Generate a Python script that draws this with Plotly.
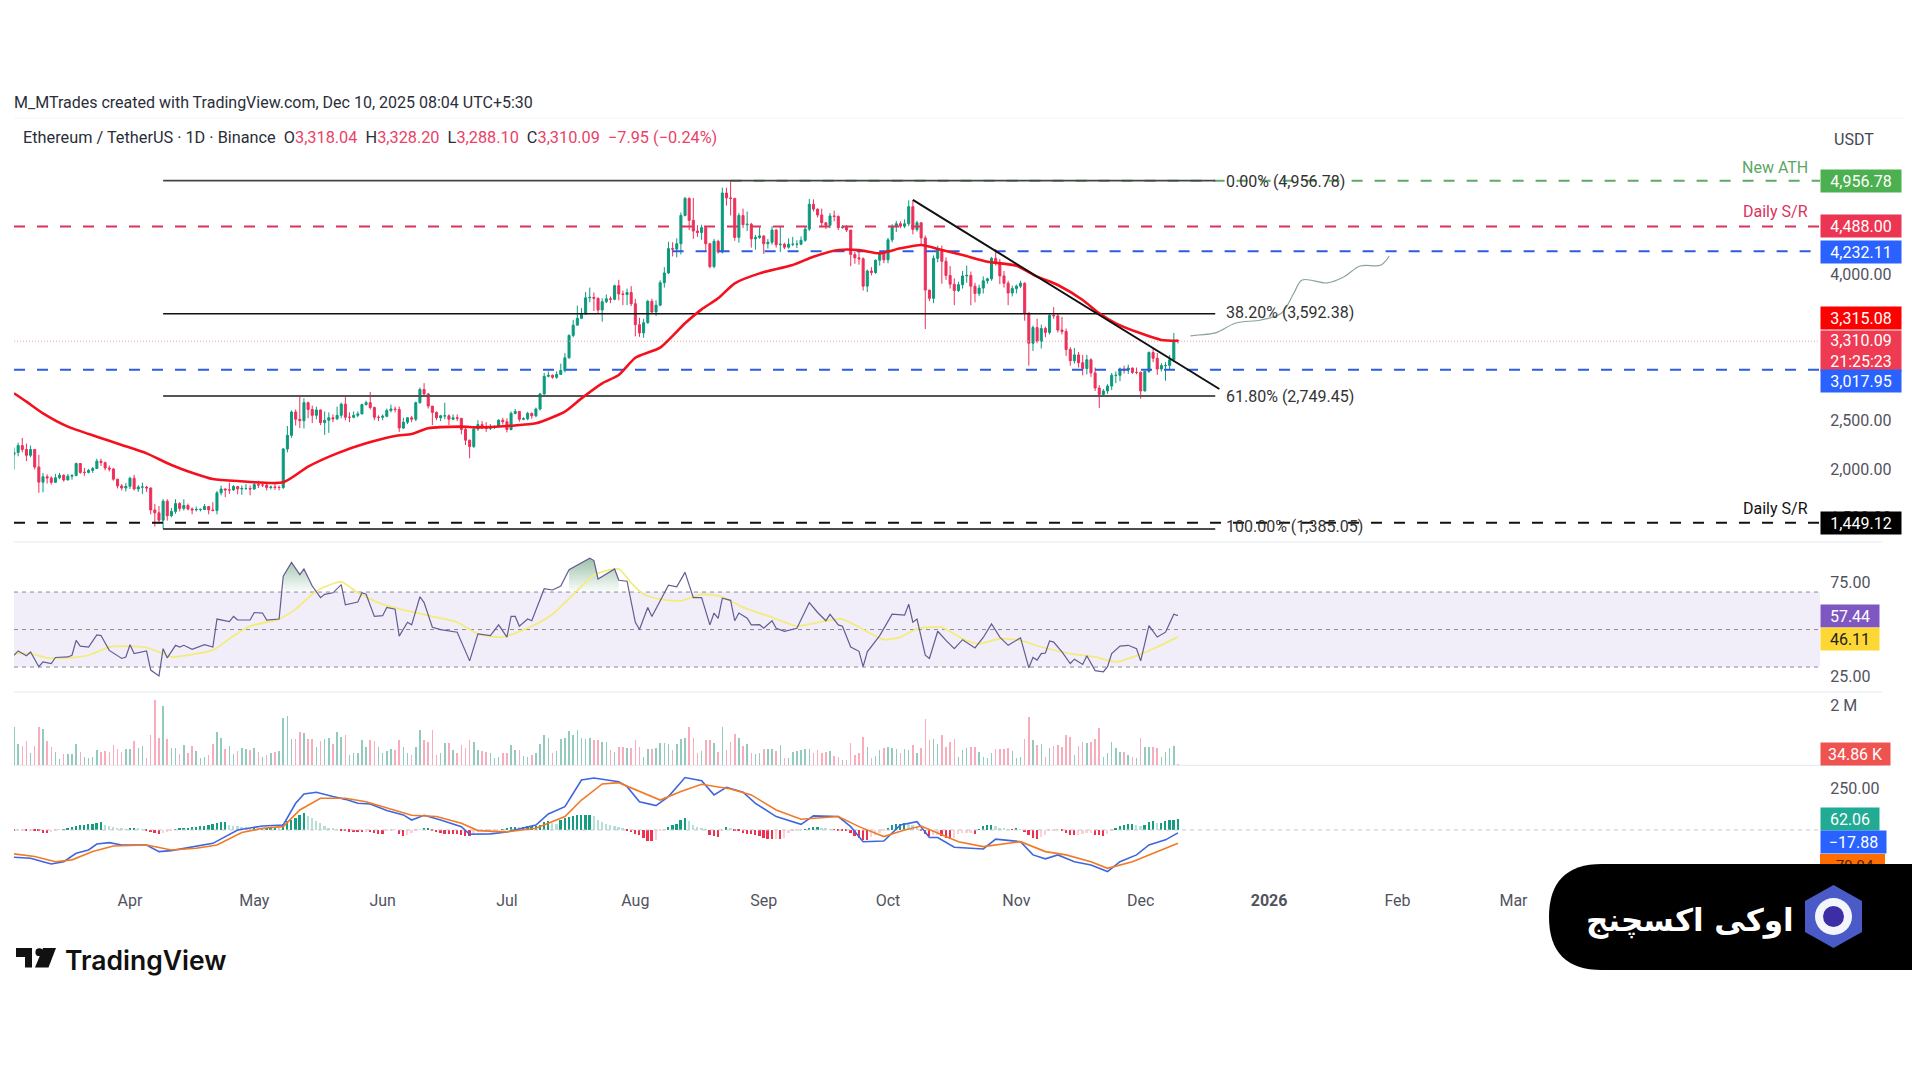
import pandas as pd
import plotly.graph_objects as go

start = pd.Timestamp("2025-03-04")
days = list(range(282))

opens = [
    2150,2170,2240,2200,2140,2200,2020,1865,1920,1908,1863,1910,1936,1887,1926,1934,2056,1965,1965,1985,2005,2080,2065,2010,2000,1895,1826,1805,
    1822,1905,1795,1815,1815,1805,1580,1550,1475,1670,1520,1565,1645,1595,1625,1590,1580,1585,1585,1615,1580,1575,1755,1795,1785,1785,1820,1795,1800,1800,
    1795,1840,1835,1835,1810,1815,1810,1810,2205,2345,2585,2510,2495,2680,2610,2550,2605,2475,2500,2525,2515,2550,2665,2530,2530,2550,2565,2660,2680,2630,2530,
    2530,2540,2600,2615,2610,2420,2480,2525,2510,2680,2815,2770,2645,2580,2525,2545,2545,2510,2525,2520,2405,2295,2230,2410,2455,2420,2415,2425,2435,2500,
    2485,2405,2570,2590,2510,2515,2570,2545,2615,2770,2950,2960,2940,2970,3010,3140,3370,3475,3545,3590,3755,3760,3750,3630,3715,3745,3740,3880,3795,3790,3810,
    3695,3480,3395,3500,3720,3610,3680,3910,4010,4260,4255,4310,4600,4775,4550,4440,4425,4475,4310,4075,4335,4225,4830,4780,4775,4375,4600,4505,4510,4360,4375,
    4390,4310,4325,4450,4300,4305,4275,4305,4305,4305,4345,4460,4715,4665,4605,4525,4500,4595,4590,4475,4480,4450,4200,4165,4155,3875,4030,4015,4140,4215,
    4145,4350,4485,4515,4490,4515,4690,4455,4525,4370,3835,3750,4160,4250,4130,3985,3895,3830,3890,3980,3985,3875,3800,3855,3930,3950,4160,4120,3980,3905,3805,
    3850,3875,3905,3600,3290,3450,3310,3440,3400,3575,3570,3425,3410,3225,3110,3170,3090,3030,3120,2985,2830,2765,2800,2850,2960,2960,3025,3015,3035,2990,
    2990,2800,3000,3195,3135,3025,3060,3060,3120,3318.04,
]
highs = [
    2220,2270,2318,2260,2240,2205,2145,1960,1945,1925,1950,1960,1945,1950,1945,2065,2060,2010,2000,2020,2105,2105,2075,2035,2010,1900,1845,1855,
    1920,1940,1835,1860,1825,1810,1640,1620,1690,1690,1600,1690,1660,1690,1645,1605,1615,1595,1640,1615,1660,1775,1830,1800,1860,1835,1825,1830,1845,1830,
    1870,1880,1870,1850,1830,1860,1830,2215,2440,2600,2610,2740,2725,2690,2650,2640,2610,2590,2580,2560,2640,2680,2740,2580,2590,2590,2670,2700,2790,2640,2550,
    2560,2620,2660,2640,2640,2525,2530,2545,2690,2835,2880,2780,2590,2590,2555,2680,2560,2560,2560,2520,2425,2300,2420,2500,2490,2480,2460,2445,2510,2525,
    2520,2590,2615,2590,2530,2585,2580,2630,2780,2985,3000,2970,3000,3080,3190,3380,3530,3675,3650,3815,3860,3810,3760,3750,3790,3770,3890,3940,3830,3850,3875,
    3745,3550,3540,3735,3745,3730,3935,4070,4330,4325,4365,4630,4790,4785,4780,4500,4505,4480,4320,4360,4350,4885,4885,4956.78,4780,4625,4670,4640,4525,4400,4480,
    4395,4360,4490,4460,4485,4320,4365,4380,4345,4385,4490,4770,4765,4670,4670,4530,4625,4650,4600,4500,4500,4450,4230,4240,4170,4045,4070,4150,4240,4225,
    4370,4510,4545,4540,4560,4755,4755,4545,4530,4395,3820,4190,4290,4290,4170,4080,3955,3920,4030,4085,4025,3910,3890,3975,3960,4175,4255,4155,4030,3930,3880,
    3890,3930,3915,3600,3470,3540,3480,3460,3590,3660,3590,3560,3440,3250,3240,3200,3170,3170,3135,3040,2860,2820,2870,2985,3000,3040,3060,3070,3040,3040,
    3000,3005,3205,3240,3190,3085,3095,3170,3395,3328.20,
]
lows = [
    1995,2130,2170,2080,2120,1995,1755,1760,1850,1840,1860,1895,1870,1885,1890,1925,1950,1930,1955,1960,2000,2030,1985,1975,1880,1800,1780,1770,
    1795,1780,1765,1745,1765,1535,1410,1440,1385.05,1470,1505,1540,1565,1575,1575,1535,1565,1565,1580,1535,1565,1535,1730,1710,1745,1775,1740,1735,1785,1730,
    1785,1805,1815,1780,1790,1785,1780,1795,2170,2320,2445,2420,2415,2520,2470,2510,2450,2350,2370,2480,2500,2520,2500,2480,2520,2530,2560,2650,2610,2500,2490,
    2500,2530,2580,2580,2380,2410,2460,2480,2490,2670,2740,2620,2450,2500,2490,2510,2450,2500,2490,2355,2245,2110,2215,2390,2410,2380,2400,2410,2435,2455,
    2375,2395,2560,2485,2500,2500,2515,2530,2600,2760,2940,2925,2925,2965,2990,3130,3350,3475,3540,3580,3710,3620,3600,3510,3700,3700,3730,3730,3680,3680,3670,
    3360,3355,3345,3490,3590,3570,3670,3860,4000,4180,4170,4200,4590,4450,4360,4380,4350,4225,4060,4060,4210,4210,4700,4600,4340,4320,4470,4440,4270,4250,4360,
    4205,4260,4300,4270,4225,4255,4260,4285,4265,4295,4330,4440,4640,4580,4480,4460,4470,4540,4450,4465,4430,4080,4105,4095,3830,3815,3985,4000,4085,4110,
    4110,4325,4430,4470,4470,4490,4405,4435,4300,3435,3720,3700,4120,3900,3940,3850,3680,3815,3850,3910,3680,3710,3775,3800,3900,3930,4085,3895,3860,3680,3770,
    3800,3855,3520,3060,3210,3290,3235,3350,3380,3540,3400,3380,3160,3060,3080,3040,2960,2970,2945,2800,2625,2750,2770,2810,2880,2900,2980,2975,2975,2970,
    2720,2795,2985,3095,2965,3000,2905,3025,3095,3288.10,
]
closes = [
    2170,2240,2200,2140,2200,2020,1865,1920,1908,1863,1910,1936,1887,1926,1934,2056,1965,1965,1985,2005,2080,2065,2010,2000,1895,1826,1805,1822,
    1905,1795,1815,1815,1805,1580,1550,1475,1670,1520,1565,1645,1595,1625,1590,1580,1585,1585,1615,1580,1575,1755,1795,1785,1785,1820,1795,1800,1800,1795,
    1840,1835,1835,1810,1815,1810,1810,2205,2345,2585,2510,2495,2680,2610,2550,2605,2475,2500,2525,2515,2550,2665,2530,2530,2550,2565,2660,2680,2630,2530,2530,
    2540,2600,2615,2610,2420,2480,2525,2510,2680,2815,2770,2645,2580,2525,2545,2545,2510,2525,2520,2405,2295,2230,2410,2455,2420,2415,2425,2435,2500,2485,
    2405,2570,2590,2510,2515,2570,2545,2615,2770,2950,2960,2940,2970,3010,3140,3370,3475,3545,3590,3755,3760,3750,3630,3715,3745,3740,3880,3795,3790,3810,3695,
    3480,3395,3500,3720,3610,3680,3910,4010,4260,4255,4310,4600,4775,4550,4440,4425,4475,4310,4075,4335,4225,4830,4780,4775,4375,4600,4505,4510,4360,4375,4390,
    4310,4325,4450,4300,4305,4275,4305,4305,4305,4345,4460,4715,4665,4605,4525,4500,4595,4590,4475,4480,4450,4200,4165,4155,3875,4030,4015,4140,4215,4145,
    4350,4485,4515,4490,4515,4690,4455,4525,4370,3835,3750,4160,4250,4130,3985,3895,3830,3890,3980,3985,3875,3800,3855,3930,3950,4160,4120,3980,3905,3805,3850,
    3875,3905,3600,3290,3450,3310,3440,3400,3575,3570,3425,3410,3225,3110,3170,3090,3030,3120,2985,2830,2765,2800,2850,2960,2960,3025,3015,3035,2990,2990,
    2800,3000,3195,3135,3025,3060,3060,3120,3318.04,3310.09,
]

ma_days = [0,3,7,13,20,26,32,38,43,48,54,65,71,78,85,92,96,100,108,112,120,126,133,137,142,146,150,156,162,166,170,174,180,188,193,199,204,209,214,219,224,229,235,242,247,252,258,262,266,272,277,281]
ma_vals = [2776,2690,2570,2434,2331,2246,2160,2041,1962,1897,1876,1863,2024,2160,2263,2338,2359,2417,2434,2427,2444,2468,2588,2724,2878,2964,3141,3244,3494,3637,3750,3904,4006,4092,4177,4246,4246,4212,4263,4297,4246,4194,4126,4085,3972,3887,3733,3596,3494,3391,3323,3315.08]

rsi_days = [0,1,3,4,6,7,9,10,13,14,15,16,18,20,21,23,26,27,28,29,32,33,35,36,37,39,40,41,43,46,48,49,52,53,54,57,58,60,61,64,65,67,69,70,72,74,75,77,79,80,83,84,85,87,89,90,92,93,95,96,98,99,101,103,107,110,112,115,117,119,120,121,122,124,125,128,130,132,134,139,140,141,145,146,148,150,151,153,154,158,160,162,164,166,168,169,170,171,173,174,175,177,178,180,181,183,184,186,189,192,194,196,197,199,200,202,204,205,206,208,209,212,215,216,217,218,220,221,223,225,227,229,232,234,236,238,240,243,245,246,247,248,249,250,251,253,255,256,258,259,261,263,264,265,267,269,271,272,274,276,278,280,281]
rsi_vals = [36.3,38.6,36.0,38.0,30.2,32.8,31.9,35.1,35.4,36.3,44.2,41.2,40.7,47.2,46.8,38.9,34.6,35.4,41.9,37.2,38.6,28.4,25.3,39.8,34.9,41.6,40.7,41.6,39.5,41.9,40.7,55.6,54.2,57.0,55.1,55.1,59.1,58.8,55.1,55.6,78.4,85.8,79.3,82.3,73.2,67.0,68.8,69.6,74.0,63.2,64.7,69.6,68.8,57.0,57.4,61.8,60.9,46.5,53.9,52.5,67.5,64.4,51.2,50.0,48.6,33.3,47.7,46.8,52.5,46.0,57.0,57.0,51.8,55.6,54.7,71.8,71.1,73.2,81.9,88.1,86.8,77.0,82.3,76.3,75.8,53.9,50.0,61.8,57.0,73.7,72.8,80.5,67.0,67.0,52.5,58.8,56.0,66.7,65.6,54.7,58.8,56.1,52.5,52.6,50.7,54.7,50.7,49.1,50.7,64.4,59.1,54.7,58.1,52.5,51.8,40.7,38.4,30.2,38.1,44.2,46.8,58.2,57.7,63.5,53.9,55.6,36.3,34.6,49.1,44.2,39.8,44.6,40.2,45.8,53.0,46.0,41.6,45.6,29.6,35.1,33.7,37.2,37.5,43.9,43.3,38.1,31.9,34.2,31.4,36.0,28.1,27.5,30.2,37.2,41.2,41.6,39.8,33.3,52.1,46.0,48.6,58.2,57.44]

rsi_ma_days = [0,4,8,13,18,23,26,32,36,38,43,48,52,57,64,68,73,79,83,89,95,101,107,112,118,125,130,135,140,146,149,152,156,161,166,171,176,183,189,195,200,205,210,214,218,224,229,233,238,243,248,255,261,266,271,276,281]
rsi_ma_vals = [37.2,37.2,34.9,34.9,36.3,40.7,41.2,40.4,37.2,35.4,36.7,39.0,45.1,51.8,55.6,60.9,70.6,75.4,69.6,63.4,60.0,57.0,53.9,47.7,46.0,51.8,58.2,68.6,79.1,82.3,74.9,68.8,66.2,65.3,68.8,67.5,61.8,56.5,51.8,54.2,55.6,50.0,44.7,46.0,50.4,51.2,45.1,42.5,45.1,44.2,40.7,37.2,35.4,32.8,36.0,40.7,46.11]

volumes_k = [
    1290,710,640,820,400,640,1290,1200,810,620,
    455,210,370,380,380,710,430,270,230,290,
    510,430,480,455,680,530,430,530,530,810,
    565,640,230,1010,2175,900,1985,865,565,565,
    380,680,400,640,490,230,270,345,710,1120,
    920,530,640,380,490,590,530,510,565,455,
    270,345,400,455,490,1565,1640,865,865,1120,
    1065,865,865,620,820,865,900,710,1120,930,
    1010,345,400,400,845,600,845,820,620,400,
    490,530,510,845,600,400,345,600,1175,845,
    790,1175,345,400,730,755,510,420,680,565,
    845,790,510,490,455,400,230,290,400,420,
    680,510,510,310,290,345,400,710,1010,900,
    400,490,865,900,1155,1010,1175,900,865,900,
    845,845,790,790,510,455,620,620,565,565,
    845,620,290,530,530,565,730,755,710,510,
    710,875,900,1290,900,400,490,845,845,730,
    455,1290,510,790,1045,900,645,710,400,380,
    400,530,530,530,490,680,230,230,455,490,
    510,530,530,420,510,400,455,490,310,290,
    175,175,755,345,400,955,600,230,310,510,
    565,600,565,530,400,530,510,680,400,565,
    1545,845,865,710,1010,620,790,865,290,510,
    565,620,600,455,290,230,420,530,530,530,
    565,490,230,290,865,1600,845,680,710,290,
    565,645,680,620,1010,930,345,645,790,755,
    790,875,1230,290,400,790,565,455,455,345,
    290,230,900,600,600,600,565,290,455,565,
    645,34.86,
]

macd_days = [0,4,7,9,12,15,18,20,23,26,32,35,38,44,48,54,60,65,68,70,73,77,80,83,86,90,94,96,99,103,108,110,115,119,126,129,133,137,140,146,148,151,155,158,162,166,169,172,176,179,184,190,193,199,202,205,210,214,218,221,223,227,234,237,243,246,249,252,256,260,264,267,271,274,278,281]
macd_vals = [-165,-171,-192,-206,-192,-141,-121,-85,-77,-91,-91,-131,-125,-101,-81,0,24,30,161,218,228,202,185,161,157,117,91,60,89,60,20,-26,-24,-12,30,97,141,302,314,292,262,171,147,202,317,298,212,258,228,161,81,34,85,81,20,-71,-67,30,50,-46,-46,-105,-115,-56,-71,-151,-175,-151,-192,-212,-252,-192,-151,-91,-60,-17.88]
signal_days = [0,5,10,14,19,24,32,38,44,49,55,60,65,69,74,80,85,91,96,102,108,112,119,126,133,137,142,146,150,156,161,166,173,178,184,190,199,204,210,215,219,223,228,234,243,249,254,260,264,270,275,281]
signal_vals = [-145,-161,-192,-181,-131,-97,-91,-121,-111,-91,-16,10,20,121,192,192,171,125,89,81,40,-4,-12,10,81,181,278,286,242,181,232,276,248,212,121,65,81,20,-40,0,24,-20,-71,-101,-71,-131,-151,-192,-232,-192,-141,-79.94]
macd_hist = [
    -10,-8,-6,-6,-4,-4,-8,-18,-22,-14,
    -6,-2,2,6,14,22,26,30,34,36,
    40,44,28,20,14,10,6,3,4,8,
    6,2,-6,-14,-22,-24,-22,-16,-4,2,
    6,8,12,14,16,20,24,28,32,40,
    44,46,30,24,20,16,14,12,12,10,
    10,10,12,12,10,36,50,60,70,90,
    100,80,70,50,40,20,10,6,2,-4,
    -8,-12,-14,-16,-16,-12,-16,-20,-24,-26,
    -10,-6,-2,-26,-40,-30,-18,-8,-2,6,
    8,-6,-14,-20,-24,-26,-26,-28,-30,-36,
    -40,-30,-16,-10,-6,-4,-2,0,2,4,
    14,18,16,16,20,20,24,30,46,54,
    40,34,56,70,78,84,86,90,90,90,
    80,60,44,32,26,20,16,10,-6,-16,
    -24,-32,-48,-66,-70,-60,-8,-2,16,26,
    36,56,70,50,30,16,8,2,-30,-40,
    -45,-4,14,6,-4,-8,-20,-24,-28,-34,
    -36,-50,-55,-55,-54,-56,-50,-20,-10,-6,
    -2,2,8,14,16,8,4,2,-2,-6,
    -8,-10,-18,-40,-50,-60,-62,-44,-30,-20,
    -6,8,26,32,36,38,36,30,16,-10,
    -26,-40,-34,-30,-40,-50,-54,-50,-24,-22,
    -20,-18,-24,2,20,30,30,24,10,4,
    2,-2,4,2,-14,-34,-50,-54,-44,-30,
    -10,-4,-2,-6,-22,-30,-34,-30,-24,-22,
    -18,-30,-34,-36,-24,-10,12,24,30,34,
    34,26,20,30,48,52,40,42,50,56,
    60,62.06,
]

# hand drawn path and trendline on the price pane
path_days = [284,286,290,295,301,306,309,311,317,321,325,330,332]
path_vals = [3364,3374,3395,3497,3528,3600,3805,3938,3908,3969,4082,4092,4184]
trend_days = [217,291]
trend_vals = [4759,2820]

fib_levels = [4956.78,3592.38,2749.45,1385.05]
fib_labels = ["0.00% (4,956.78)","38.20% (3,592.38)","61.80% (2,749.45)","100.00% (1,385.05)"]
month_ticks = ["2025-04-01","2025-05-01","2025-06-01","2025-07-01","2025-08-01","2025-09-01","2025-10-01","2025-11-01","2025-12-01","2026-01-01","2026-02-01","2026-03-01"]
month_names = ["Apr","May","Jun","Jul","Aug","Sep","Oct","Nov","Dec","<b>2026</b>","Feb","Mar"]

FONT = "Roboto"
UP = "#0b9a7d"
DOWN = "#ee2f5a"

# the page keeps its 8px body margin, so the figure sits at (8, 8)
W, H = 1912, 1064


def d(idx):
    return start + pd.to_timedelta(idx, unit="D")


def px(x, y):
    return (x - 8) / W, 1 - (y - 8) / H


def dom(top, bottom):
    return [1 - (bottom - 8) / H, 1 - (top - 8) / H]


dates = d(days)
x_end = d(436)

fig = go.Figure()


def level(y0, color, dash, width=2, from_day=0, to_day=436, axis="y"):
    fig.add_trace(go.Scatter(x=d([from_day, to_day]), y=[y0, y0], yaxis=axis, mode="lines",
                             line=dict(color=color, dash=dash, width=width), hoverinfo="skip"))


# price pane
level(3310.09, "#e9a3ad", "1px,2px", 1)
level(4488.00, "#d9345c", "11px,12px")
level(4232.11, "#2f5be0", "11px,12px", from_day=159)
level(3017.95, "#2f5be0", "11px,12px")
level(1449.12, "#111111", "11px,12px")
level(4956.78, "#5fa866", "11px,12px", from_day=173)
for lv, c, w in zip(fib_levels, ["#444444", "#111111", "#555555", "#111111"], [1.6, 1.6, 2, 1.6]):
    level(lv, c, "solid", w, from_day=36, to_day=290)

fig.add_trace(go.Candlestick(x=dates, open=opens, high=highs, low=lows, close=closes,
                             increasing=dict(line=dict(color=UP, width=1), fillcolor=UP),
                             decreasing=dict(line=dict(color=DOWN, width=1), fillcolor=DOWN),
                             whiskerwidth=0))
fig.add_trace(go.Scatter(x=d(ma_days), y=ma_vals, mode="lines",
                         line=dict(color="#f4101c", width=2.6, shape="spline", smoothing=0.6)))
fig.add_trace(go.Scatter(x=d(trend_days), y=trend_vals, mode="lines", line=dict(color="#111111", width=2)))
fig.add_trace(go.Scatter(x=d(path_days), y=path_vals, mode="lines",
                         line=dict(color="#8aa596", width=1.2, shape="spline")))

# rsi pane
for hump in [(65, 72), (134, 146)]:
    hd = [i for i, v in zip(rsi_days, rsi_vals) if hump[0] <= i <= hump[1] and v >= 70]
    hv = [v for i, v in zip(rsi_days, rsi_vals) if hump[0] <= i <= hump[1] and v >= 70]
    fig.add_trace(go.Scatter(x=d([hd[0]] + hd + [hd[-1]]), y=[70] + hv + [70], yaxis="y2", mode="lines",
                             line=dict(width=0), fill="toself",
                             fillgradient=dict(type="vertical", start=70, stop=88,
                                               colorscale=[[0, "rgba(60,140,90,0.02)"], [1, "rgba(60,130,85,0.5)"]])))
for lv in [70, 50, 30]:
    level(lv, "#8a8a92", "4px,4px", 1, axis="y2")
fig.add_trace(go.Scatter(x=d(rsi_ma_days), y=rsi_ma_vals, yaxis="y2", mode="lines",
                         line=dict(color="#f3ec7c", width=1.8, shape="spline", smoothing=0.6)))
fig.add_trace(go.Scatter(x=d(rsi_days), y=rsi_vals, yaxis="y2", mode="lines",
                         line=dict(color="#635c92", width=1.2)))

# volume pane
fig.add_trace(go.Bar(x=dates, y=volumes_k, yaxis="y3", width=32000000,
                     marker=dict(color=["rgba(38,150,125,0.5)" if c >= o else "rgba(240,60,95,0.42)"
                                        for o, c in zip(opens, closes)], line=dict(width=0))))

# macd pane
hist_colors = []
for i, v in enumerate(macd_hist):
    prev = macd_hist[i - 1] if i else 0
    if v >= 0:
        hist_colors.append("#169c80" if v >= prev else "#b7dfd7")
    else:
        hist_colors.append("#f0304f" if v <= prev else "#fbd0d6")
level(0, "#c4c6cc", "4px,4px", 1, axis="y4")
fig.add_trace(go.Bar(x=dates, y=macd_hist, yaxis="y4", width=38000000,
                     marker=dict(color=hist_colors, line=dict(width=0))))
fig.add_trace(go.Scatter(x=d(macd_days), y=macd_vals, yaxis="y4", mode="lines", line=dict(color="#3f66e0", width=1.6)))
fig.add_trace(go.Scatter(x=d(signal_days), y=signal_vals, yaxis="y4", mode="lines", line=dict(color="#f07a25", width=1.6)))

tick_font = dict(family=FONT, size=16, color="#50535e")
yaxis_base = dict(side="right", showgrid=False, zeroline=False, showline=False, anchor="x",
                  ticks="outside", ticklen=6, tickcolor="rgba(0,0,0,0)", tickfont=tick_font)

fig.update_layout(
    width=W, height=H, margin=dict(l=0, r=0, t=0, b=0),
    paper_bgcolor="white", plot_bgcolor="white", showlegend=False, bargap=0,
    xaxis=dict(domain=[px(14, 0)[0], px(1820, 0)[0]], anchor="y4", type="date", range=[d(0), x_end],
               rangeslider=dict(visible=False), showgrid=False, zeroline=False, showline=False,
               tickmode="array", tickvals=month_ticks, ticktext=month_names,
               ticks="outside", ticklen=2, tickcolor="rgba(0,0,0,0)", tickfont=tick_font),
    yaxis=dict(domain=dom(120, 542), range=[1251, 5579], tickmode="array",
               tickvals=[1500, 2000, 2500, 4000], tickformat=",.2f", **yaxis_base),
    yaxis2=dict(domain=dom(542, 692), range=[16.7, 96.7], tickmode="array",
                tickvals=[25, 75], tickformat=".2f", **yaxis_base),
    yaxis3=dict(domain=dom(692, 765.3), range=[0, 2441], tickmode="array",
                tickvals=[2000], ticktext=["2 M"], **yaxis_base),
    yaxis4=dict(domain=dom(765.3, 884), range=[-327, 391], tickmode="array",
                tickvals=[250], tickformat=".2f", **yaxis_base),
)


def rect(x0, y0, x1, y1, color, **kw):
    ax, ay = px(x0, y0)
    bx, by = px(x1, y1)
    return dict(type="rect", xref="paper", yref="paper", x0=ax, y0=ay, x1=bx, y1=by,
                fillcolor=color, line=dict(width=0), **kw)


def path_shape(points, color, layer="above"):
    pts = [px(a, b) for a, b in points]
    s = "M " + " L ".join(f"{a:.5f},{b:.5f}" for a, b in pts) + " Z"
    return dict(type="path", xref="paper", yref="paper", path=s, fillcolor=color, line=dict(width=0), layer=layer)


def circle(cx, cy, r, color):
    ax, ay = px(cx - r, cy - r)
    bx, by = px(cx + r, cy + r)
    return dict(type="circle", xref="paper", yref="paper", x0=ax, y0=ay, x1=bx, y1=by,
                fillcolor=color, line=dict(width=0), layer="above")


def hline(y, x0=14, x1=1882, color="#e6e8ee"):
    ax, ay = px(x0, y)
    bx, _ = px(x1, y)
    return dict(type="line", xref="paper", yref="paper", x0=ax, y0=ay, x1=bx, y1=ay,
                line=dict(color=color, width=1), layer="below")


# black sponsor box with its rounded left side, hexagon mark
box_top, box_bot, box_left = 864, 970, 1549
r = (box_bot - box_top) / 2
lx, ty = px(box_left, box_top)
rx, by = px(1920, box_bot)
kx, _ = px(box_left + r, box_top)
_, my = px(box_left, box_top + r)
box_path = (f"M {rx},{ty} L {kx},{ty} Q {lx},{ty} {lx},{my} Q {lx},{by} {kx},{by} L {rx},{by} Z")

shapes = [
    dict(type="rect", xref="x", yref="y2", x0=d(0), x1=x_end, y0=30, y1=70,
         fillcolor="#f1eef9", line=dict(width=0), layer="below"),
    hline(542), hline(692), hline(765.3), hline(118, 14, 1905, "#f3f4f7"),
    rect(1820, 854, 1885, 876, "#ff6d00", layer="above", label=dict(text="-79.94", font=dict(family=FONT, size=15, color="#4a2100"), textposition="middle center")),
    dict(type="path", xref="paper", yref="paper", path=box_path, fillcolor="#000000", line=dict(width=0), layer="above"),
    path_shape([(1833.5, 885), (1862, 901), (1862, 932), (1833.5, 948), (1805, 932), (1805, 901)], "#4a5bc8"),
    circle(1833.5, 916.5, 18.5, "#f4f5fb"),
    circle(1833.5, 916.5, 10.5, "#3d2ea6"),
    # tradingview mark
    path_shape([(16, 948), (32, 948), (32, 967.5), (25, 967.5), (25, 957), (16, 957)], "#111111"),
    circle(39.3, 952.2, 3.9, "#111111"),
    path_shape([(43, 948), (56, 948), (48.5, 967.5), (35, 967.5)], "#111111"),
]
fig.update_layout(shapes=shapes)


def note(x, y, text, size=16, color="#2a2e39", anchor="left", **kw):
    ax, ay = px(x, y)
    fig.add_annotation(xref="paper", yref="paper", x=ax, y=ay, text=text, showarrow=False,
                       xanchor=anchor, yanchor="middle", font=dict(family=FONT, size=size, color=color), **kw)


def price_tag(y, text, bg, fg="white", w=78, h=20):
    ax, ay = px(1820, y)
    fig.add_annotation(xref="paper", yref="paper", x=ax, y=ay, text=text, showarrow=False,
                       xanchor="left", yanchor="middle", width=w, height=h, align="center", bgcolor=bg,
                       borderpad=1, font=dict(family=FONT, size=16, color=fg))


red_txt = '<span style="color:#ea4268">%s</span>'
note(12, 102, "M_MTrades created with TradingView.com, Dec 10, 2025 08:04 UTC+5:30")
note(21, 138, "Ethereum / TetherUS · 1D · Binance&nbsp;&nbsp;O" + red_txt % "3,318.04" + "&nbsp;&nbsp;H" + red_txt % "3,328.20"
     + "&nbsp;&nbsp;L" + red_txt % "3,288.10" + "&nbsp;&nbsp;C" + red_txt % "3,310.09" + "&nbsp;&nbsp;" + red_txt % "−7.95 (−0.24%)", size=16.3)
note(1854, 139, "USDT", anchor="center", color="#434651")

for y, text in zip([181, 313, 396, 527], fib_labels):
    note(1224, y, text, color="#333333")
note(1810, 167, "New ATH", color="#5aa764", anchor="right")
note(1810, 212, "Daily S/R", color="#d9345c", anchor="right")
note(1810, 508, "Daily S/R", color="#111111", anchor="right")

price_tag(181, "4,956.78", "#4caf50")
price_tag(226.5, "4,488.00", "#ec3552")
price_tag(252, "4,232.11", "#2962ff")
price_tag(318, "3,315.08", "#ff0000")
price_tag(351, "3,310.09<br>21:25:23", "#ee3a52", h=38)
price_tag(381.5, "3,017.95", "#2962ff")
price_tag(522.5, "1,449.12", "#000000")
price_tag(616, "57.44", "#7e57c2", w=56)
price_tag(639, "46.11", "#fdd835", fg="#222222", w=56)
price_tag(754, "34.86 K", "#ef5350", w=67)
price_tag(819, "62.06", "#22ab94", w=56)
price_tag(842, "−17.88", "#2962ff", w=63)

ax, ay = px(63, 960)
fig.add_annotation(xref="paper", yref="paper", x=ax, y=ay, text="TradingView", showarrow=False, xanchor="left", yanchor="middle",
                   font=dict(family="Inter", size=26.5, color="#111111", weight=600))
ax, ay = px(1796, 920)
fig.add_annotation(xref="paper", yref="paper", x=ax, y=ay, text="اوکی اکسچنج", showarrow=False, xanchor="right", yanchor="middle",
                   font=dict(family="DejaVu Sans", size=31, color="white", weight=700))

fig.write_html("out.html")
